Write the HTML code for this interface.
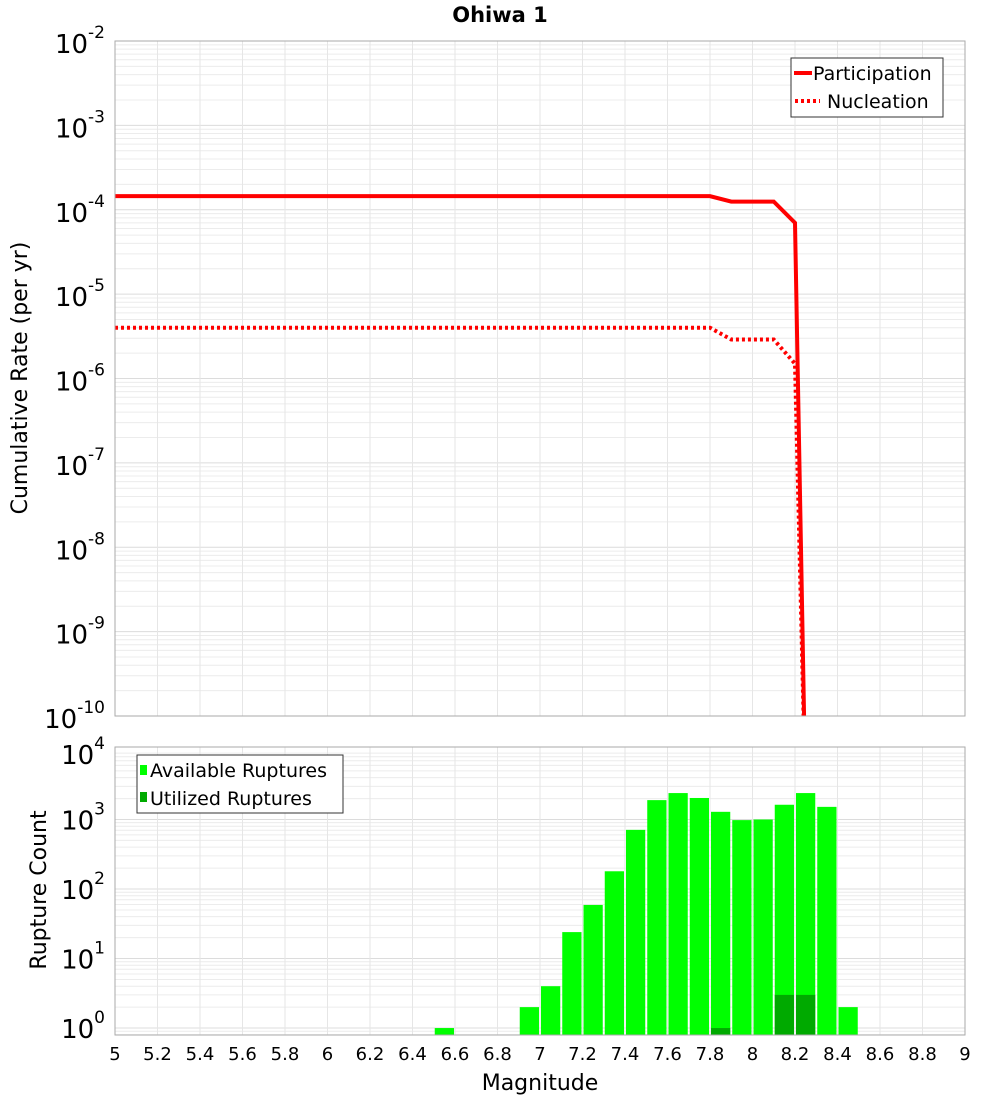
<!DOCTYPE html>
<html><head><meta charset="utf-8"><style>
body{margin:0;background:#fff;width:1000px;height:1100px;overflow:hidden;font-family:"Liberation Sans","DejaVu Sans",sans-serif}
svg text{font-family:"DejaVu Sans","Liberation Sans",sans-serif}
</style></head><body>
<svg id="chart" width="1000" height="1100" xmlns="http://www.w3.org/2000/svg">
<text x="500" y="22" text-anchor="middle" font-size="21" font-weight="bold">Ohiwa 1</text>
<g id="topPlot"></g>
<g id="botPlot"></g>
<text transform="translate(27,378) rotate(-90)" text-anchor="middle" font-size="22">Cumulative Rate (per yr)</text>
<text transform="translate(46,890) rotate(-90)" text-anchor="middle" font-size="22">Rupture Count</text>
<text x="540" y="1090" text-anchor="middle" font-size="22">Magnitude</text>
</svg>
<script>
const partMags=[5.0,7.8,7.9,8.1,8.2,8.25];
const partRates=[1.45e-4,1.45e-4,1.25e-4,1.25e-4,7.0e-5,1e-11];
const nuclMags=[5.0,7.8,7.9,8.1,8.2,8.25];
const nuclRates=[4.0e-6,4.0e-6,2.9e-6,2.9e-6,1.5e-6,1e-11];
const binMags=[6.5,6.9,7.0,7.1,7.2,7.3,7.4,7.5,7.6,7.7,7.8,7.9,8.0,8.1,8.2,8.3,8.4];
const availCounts=[1,2,4,24,59,180,710,1900,2400,2040,1290,980,1000,1630,2400,1520,2];
const utilMags=[7.8,8.1,8.2];
const utilCounts=[1,3,3];
const xTicks=[5,5.2,5.4,5.6,5.8,6,6.2,6.4,6.6,6.8,7,7.2,7.4,7.6,7.8,8,8.2,8.4,8.6,8.8,9];
const topExps=[-2,-3,-4,-5,-6,-7,-8,-9,-10];
const botExps=[4,3,2,1,0];

const NS="http://www.w3.org/2000/svg";
const X0=115,X1=965;
const x=m=>X0+(m-5)/4*(X1-X0);
const TT=41,TB=716;
const yT=v=>TT+(-2-Math.log10(v))/8*(TB-TT);
const BT=747,BB=1035,BLmax=4.043,BLmin=-0.1;
const yB=v=>BT+(BLmax-Math.log10(v))/(BLmax-BLmin)*(BB-BT);
function mk(tag,attrs,parent){const e=document.createElementNS(NS,tag);for(const k in attrs)e.setAttribute(k,attrs[k]);parent.appendChild(e);return e;}
const topG=document.getElementById('topPlot'),botG=document.getElementById('botPlot');
const defs=mk('defs',{},topG);
const c1=mk('clipPath',{id:'ct'},defs);mk('rect',{x:X0,y:TT,width:X1-X0,height:TB-TT},c1);

function grid(g,yf,lo,hi,y0,y1){
  for(let e=lo;e<hi;e++)for(let k=1;k<10;k++){const v=k*Math.pow(10,e);const yy=yf(v);if(yy<y0||yy>y1)continue;
    const l=mk('line',{x1:X0,x2:X1,y1:yy,y2:yy,stroke:k==1?'#dcdcdc':'#ececec','stroke-width':1},g);
    
    }
  xTicks.forEach(t=>{const l=mk('line',{x1:x(t),x2:x(t),y1:y0,y2:y1,stroke:'#e6e6e6','stroke-width':1},g);
    
    });
}
grid(topG,yT,-10,-2,TT,TB);
grid(botG,yB,-1,4,BT,BB);

function line(ms,vs,dash,name){
  const p=mk('polyline',{points:ms.map((m,i)=>x(m)+','+yT(vs[i])).join(' '),fill:'none',stroke:'#ff0000','stroke-width':4,'clip-path':'url(#ct)'},topG);
  if(dash)p.setAttribute('stroke-dasharray',dash);
  
  
}
line(partMags,partRates,null,'participation-line');
line(nuclMags,nuclRates,'3,3','nucleation-line');
mk('rect',{x:X0,y:TT,width:X1-X0,height:TB-TT,fill:'none',stroke:'#aaaaaa'},topG);
topExps.forEach(e=>{const yy=yT(Math.pow(10,e));
  const t=mk('text',{x:105,y:yy+12,'text-anchor':'end','font-size':26},topG);
  t.innerHTML='10<tspan dy="-15" font-size="17">'+e+'</tspan>';
  
  });
const lg=mk('g',{},topG);


mk('rect',{x:791,y:58,width:152,height:59,fill:'#fff',stroke:'#333'},lg);
mk('line',{x1:794,x2:812,y1:73,y2:73,stroke:'#f00','stroke-width':4},lg);
mk('line',{x1:795,x2:820,y1:101,y2:101,stroke:'#f00','stroke-width':4,'stroke-dasharray':'3,3'},lg);
const lt1=mk('text',{x:813,y:80,'font-size':19},lg);lt1.textContent='Participation';


const lt2=mk('text',{x:827,y:108,'font-size':19},lg);lt2.textContent='Nucleation';



const bw=x(5.1)-x(5);
binMags.forEach((m,i)=>{const yy=yB(availCounts[i]);
  const r=mk('rect',{x:x(m)+1,y:yy,width:bw-2,height:BB-yy,fill:'#00ff00'},botG);
  
  });
utilMags.forEach((m,i)=>{const yy=yB(utilCounts[i]);
  const r=mk('rect',{x:x(m)+1,y:yy,width:bw-2,height:BB-yy,fill:'#00aa00'},botG);
  
  });
mk('rect',{x:X0,y:BT,width:X1-X0,height:BB-BT,fill:'none',stroke:'#aaaaaa'},botG);
botExps.forEach(e=>{const yy=yB(Math.pow(10,e));
  const t=mk('text',{x:105,y:Math.max(yy+10,764),'text-anchor':'end','font-size':26},botG);
  t.innerHTML='10<tspan dy="-15" font-size="17">'+e+'</tspan>';
  
  });
xTicks.forEach(tk=>{const t=mk('text',{x:x(tk),y:1060,'text-anchor':'middle','font-size':18},botG);
  t.textContent=String(tk);
  
  });
const lb=mk('g',{},botG);


mk('rect',{x:137,y:755,width:206,height:58,fill:'#fff',stroke:'#333'},lb);
mk('rect',{x:140,y:765,width:7,height:10,fill:'#00ff00'},lb);
mk('rect',{x:140,y:792,width:7,height:10,fill:'#00aa00'},lb);
const b1=mk('text',{x:150,y:777,'font-size':19},lb);b1.textContent='Available Ruptures';


const b2=mk('text',{x:150,y:805,'font-size':19},lb);b2.textContent='Utilized Ruptures';


</script>
</body></html>
